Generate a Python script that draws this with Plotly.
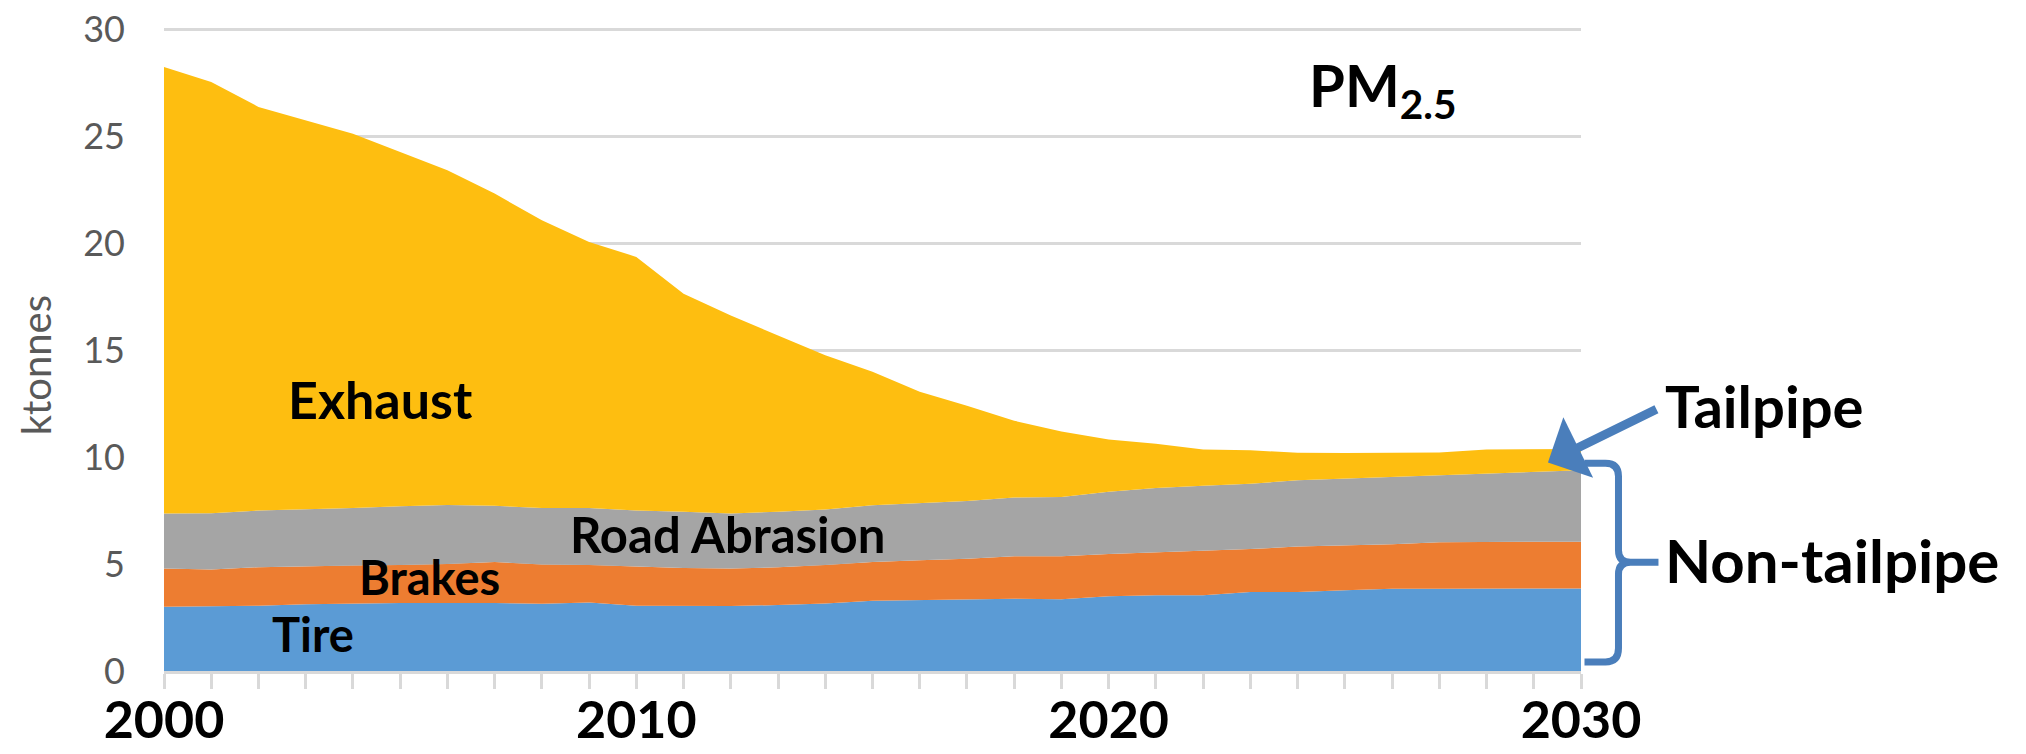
import plotly.graph_objects as go

years = list(range(2000, 2031))
tire = [3.00, 3.02, 3.05, 3.12, 3.16, 3.18, 3.18, 3.18, 3.14, 3.20, 3.05, 3.04, 3.04, 3.08, 3.15, 3.28,
        3.32, 3.35, 3.38, 3.36, 3.50, 3.54, 3.54, 3.69, 3.69, 3.78, 3.85, 3.85, 3.86, 3.86, 3.86]
brakes = [1.79, 1.72, 1.80, 1.78, 1.77, 1.77, 1.82, 1.92, 1.84, 1.75, 1.83, 1.78, 1.75, 1.77, 1.80, 1.82,
          1.86, 1.90, 1.98, 2.00, 1.97, 2.01, 2.08, 2.01, 2.13, 2.08, 2.07, 2.17, 2.18, 2.18, 2.18]
road = [2.57, 2.64, 2.65, 2.65, 2.69, 2.75, 2.76, 2.62, 2.64, 2.67, 2.62, 2.63, 2.57, 2.60, 2.60, 2.65,
        2.67, 2.70, 2.75, 2.77, 2.91, 3.00, 3.04, 3.05, 3.10, 3.14, 3.16, 3.13, 3.19, 3.28, 3.34]
exhaust = [20.88, 20.16, 18.87, 18.19, 17.50, 16.56, 15.65, 14.60, 13.45, 12.44, 11.86, 10.19, 9.26, 8.24,
           7.21, 6.24, 5.20, 4.45, 3.59, 3.07, 2.44, 2.07, 1.69, 1.57, 1.28, 1.19, 1.11, 1.07, 1.12, 1.06, 1.00]
series_names = ["Tire", "Brakes", "Road Abrasion", "Exhaust"]
decade_labels = {2000: "2000", 2010: "2010", 2020: "2020", 2030: "2030"}
y_ticks = [0, 5, 10, 15, 20, 25, 30]

colors = ["#5B9BD5", "#ED7D31", "#A5A5A5", "#FEBE10"]
FONT = "Lato"
BLUE = "#4A7EBB"

W, H = 2026, 754
YMAX = 30.2
L, R, B = 164, 1581.5, 670.7
PX_PER_UNIT = 21.39
T = B - YMAX * PX_PER_UNIT

fig = go.Figure()
for name, vals, col in zip(series_names, [tire, brakes, road, exhaust], colors):
    fig.add_trace(go.Scatter(x=years, y=vals, name=name, stackgroup="one", mode="lines",
                             line=dict(width=0, color=col), fillcolor=col, showlegend=False,
                             hoverinfo="skip"))


def px2paper(px, py):
    return (px - L) / (R - L), (B - py) / (B - T)


# brace for non-tailpipe
pts = {
    "a": (1585, 463), "b": (1606, 463), "c": (1619, 476), "d": (1619, 550), "e": (1631, 562),
    "f": (1659, 562), "g": (1619, 574), "h": (1619, 648), "i": (1606, 661.7), "j": (1585, 661.7),
}
P = {k: px2paper(*v) for k, v in pts.items()}
ctrl1 = px2paper(1619, 463)
ctrl2 = px2paper(1619, 562)
ctrl3 = px2paper(1619, 661.7)
path = (f"M{P['a'][0]},{P['a'][1]} L{P['b'][0]},{P['b'][1]} Q{ctrl1[0]},{ctrl1[1]} {P['c'][0]},{P['c'][1]} "
        f"L{P['d'][0]},{P['d'][1]} Q{ctrl2[0]},{ctrl2[1]} {P['e'][0]},{P['e'][1]} L{P['f'][0]},{P['f'][1]} "
        f"M{P['e'][0]},{P['e'][1]} Q{ctrl2[0]},{ctrl2[1]} {P['g'][0]},{P['g'][1]} "
        f"L{P['h'][0]},{P['h'][1]} Q{ctrl3[0]},{ctrl3[1]} {P['i'][0]},{P['i'][1]} L{P['j'][0]},{P['j'][1]}")
fig.add_shape(type="path", path=path, xref="paper", yref="paper",
              line=dict(color=BLUE, width=7), fillcolor="rgba(0,0,0,0)", layer="above")

ann = []
def lab(text, x, y, size, xref="x", yref="y", xanchor="center"):
    ann.append(dict(text=f"<b>{text}</b>", x=x, y=y, xref=xref, yref=yref, showarrow=False,
                    xanchor=xanchor, yanchor="middle", font=dict(family=FONT, size=size, color="black")))

lab("Exhaust", 2004.59, 12.7, 52)
lab("Road Abrasion", 2011.94, 6.4, 49)
lab("Brakes", 2005.63, 4.4, 47)
lab("Tire", 2003.16, 1.75, 47)
lab("PM<sub>2.5</sub>", 2024.2, 27.2, 58, xanchor="left")
lab("Tailpipe", px2paper(1664, 0)[0], 12.4, 58, xref="paper", xanchor="left")
lab("Non-tailpipe", px2paper(1664, 0)[0], 5.2, 60, xref="paper", xanchor="left")

# y title
ann.append(dict(text="ktonnes", x=px2paper(36, 0)[0], y=px2paper(0, 365)[1], xref="paper", yref="paper",
                showarrow=False, textangle=-90, xanchor="center", yanchor="middle",
                font=dict(family=FONT, size=40, color="#595959")))

# tailpipe arrow
ann.append(dict(text="", x=2029.3, y=9.75, xref="x", yref="y", ax=110, ay=-54,
                showarrow=True, arrowhead=1, arrowsize=1.25, arrowwidth=9, arrowcolor=BLUE, standoff=0))

fig.update_layout(
    width=W, height=H, autosize=False,
    margin=dict(l=L, r=W - R, t=T, b=H - B, pad=0),
    paper_bgcolor="white", plot_bgcolor="white",
    annotations=ann,
    xaxis=dict(range=[2000, 2030], tickmode="array", tickvals=years,
               ticktext=[decade_labels.get(y, "") for y in years],
               ticks="outside", ticklen=15, tickwidth=3, tickcolor="#D9D9D9",
               showline=True, linecolor="#D9D9D9", linewidth=3, showgrid=False, zeroline=False,
               tickfont=dict(family=FONT, size=52, color="black", weight="bold"),
               ticklabelstandoff=-13, automargin=False),
    yaxis=dict(range=[0, YMAX], tickmode="array", tickvals=y_ticks, showgrid=True, gridcolor="#D9D9D9",
               gridwidth=3, showline=False, zeroline=False, ticks="",
               tickfont=dict(family=FONT, size=36, color="#595959"), ticklabelstandoff=38,
               automargin=False),
)

fig.write_html("out.html", config={"displayModeBar": False},
               post_script="document.body.style.margin='0';")
